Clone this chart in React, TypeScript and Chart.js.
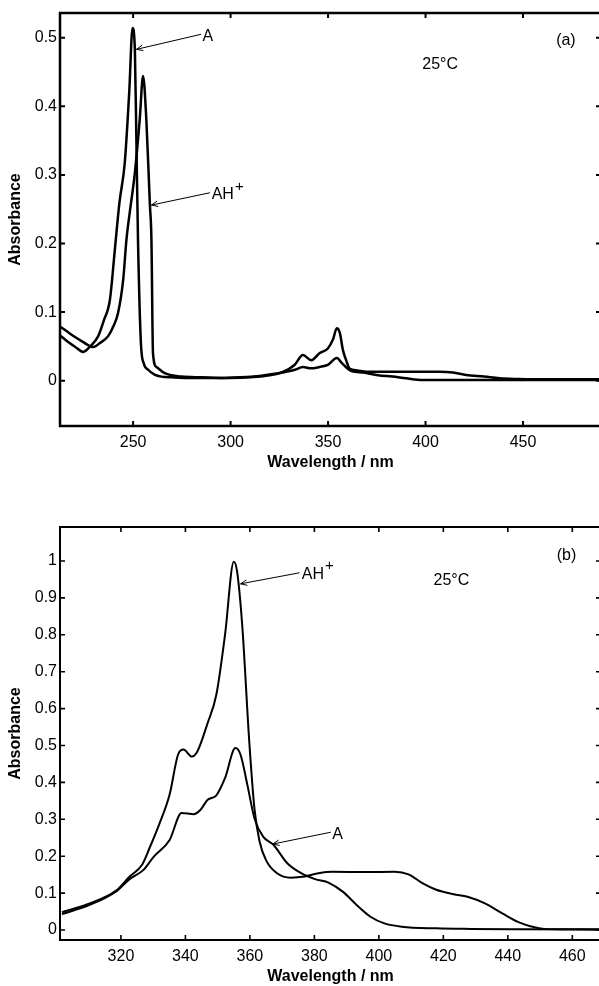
import React, { useEffect, useRef } from "react";
import { Chart, registerables } from "chart.js";

Chart.register(...registerables);

// ---------- Panel (a) data ----------
const aWlA = [212.5, 216, 220, 224.4, 228, 232.1, 235, 238.1, 240.6, 243, 245.7, 248, 249.7, 250.9, 251.7, 252.5, 254, 255.5, 257.7, 261, 264.5, 270, 280, 290, 300, 310, 320, 326.8, 333, 337.1, 341.4, 345.6, 349.9, 354.5, 357, 359.1, 362, 368, 375.6, 383, 390, 398.5, 420, 450, 490];
const aAbsA = [0.066, 0.058, 0.05, 0.042, 0.05, 0.065, 0.088, 0.118, 0.19, 0.26, 0.317, 0.42, 0.514, 0.483, 0.347, 0.206, 0.055, 0.025, 0.016, 0.009, 0.006, 0.005, 0.004, 0.004, 0.004, 0.005, 0.008, 0.012, 0.016, 0.02, 0.018, 0.02, 0.023, 0.033, 0.026, 0.02, 0.014, 0.012, 0.008, 0.006, 0.0035, 0.001, 0.001, 0.001, 0.001];
const aWlAH = [212.5, 216, 220, 224, 229.6, 233, 237.2, 240, 242.3, 244.9, 246.6, 248.5, 250.9, 253.4, 255.1, 256.8, 258.6, 259.4, 260.2, 262, 266.2, 274.8, 285, 295, 305, 315, 320, 326.8, 332.8, 337.1, 341.4, 345.6, 349.9, 352.5, 354.5, 356, 357.6, 359.5, 361, 365, 369.6, 386.6, 407.1, 414, 420.8, 430, 437.9, 448, 458.4, 490];
const aAbsAH = [0.079, 0.072, 0.064, 0.057, 0.049, 0.055, 0.065, 0.08, 0.099, 0.147, 0.206, 0.25, 0.303, 0.381, 0.444, 0.38, 0.257, 0.206, 0.04, 0.02, 0.011, 0.006, 0.005, 0.004, 0.005, 0.007, 0.009, 0.013, 0.023, 0.0375, 0.03, 0.04, 0.047, 0.06, 0.0765, 0.07, 0.045, 0.028, 0.018, 0.015, 0.013, 0.013, 0.013, 0.012, 0.0083, 0.006, 0.0035, 0.0025, 0.002, 0.002];
const aXTicks = [250, 300, 350, 400, 450];
const aYTicks = [0, 0.1, 0.2, 0.3, 0.4, 0.5];

// ---------- Panel (b) data ----------
const bWlAH = [301.7, 310.3, 318.4, 322.7, 326.5, 329, 331.8, 335.1, 337.7, 339.4, 342, 343.7, 346.9, 349.6, 352.3, 355, 356, 357.6, 359.8, 361.4, 363, 365.2, 368.4, 372.7, 377, 381.3, 385.6, 396.3, 404.9, 409.2, 413.5, 417.8, 423.2, 427.5, 432.9, 438.3, 443.7, 450.1, 456.6, 469];
const bAbsAH = [0.048, 0.072, 0.106, 0.145, 0.176, 0.225, 0.285, 0.367, 0.475, 0.489, 0.47, 0.484, 0.561, 0.638, 0.801, 0.998, 0.973, 0.828, 0.511, 0.33, 0.24, 0.186, 0.154, 0.142, 0.145, 0.154, 0.158, 0.157, 0.158, 0.151, 0.127, 0.109, 0.097, 0.09, 0.072, 0.045, 0.02, 0.0045, 0.002, 0.002];
const bWlA = [301.7, 310.3, 318.4, 322.7, 327, 330.2, 335.1, 338.8, 342.6, 344.7, 346.9, 349.6, 352.3, 355.5, 357.1, 359.2, 361.4, 364.1, 367.3, 371.6, 375.9, 380.2, 384.5, 388.8, 393.1, 397.4, 401.7, 407.1, 417.8, 428.6, 444.7, 469];
const bAbsA = [0.043, 0.068, 0.104, 0.138, 0.163, 0.199, 0.244, 0.317, 0.314, 0.326, 0.353, 0.365, 0.412, 0.493, 0.475, 0.394, 0.303, 0.253, 0.231, 0.181, 0.154, 0.138, 0.128, 0.104, 0.068, 0.036, 0.018, 0.009, 0.0045, 0.003, 0.002, 0.001];
const bXTicks = [320, 340, 360, 380, 400, 420, 440, 460];
const bYTicks = [0, 0.1, 0.2, 0.3, 0.4, 0.5, 0.6, 0.7, 0.8, 0.9, 1];

// annotation definitions (data coordinates)
const aArrows = [
  { from: [284.9, 0.505], to: [251.7, 0.483], label: "A", at: [288.3, 0.502], align: "center", sup: "" },
  { from: [289.4, 0.274], to: [259.4, 0.256], label: "AH", at: [290.3, 0.271], align: "left", sup: "+" },
];
const aTexts = [
  { text: "25°C", at: [407.5, 0.461] },
  { text: "(a)", at: [472, 0.496] },
];
const bArrows = [
  { from: [375.4, 0.968], to: [357.1, 0.938], label: "AH", at: [376.1, 0.964], align: "left", sup: "+" },
  { from: [385.1, 0.265], to: [367.1, 0.233], label: "A", at: [387.2, 0.258], align: "center", sup: "" },
];
const bTexts = [
  { text: "25°C", at: [422.5, 0.948] },
  { text: "(b)", at: [458.2, 1.014] },
];

const FONT = "'Liberation Sans', Arial, Helvetica, sans-serif";

const framePlugin = {
  id: "frame",
  afterDraw(chart: any, _args: any, opts: any) {
    const { ctx, chartArea } = chart;
    const { left, right, top, bottom } = chartArea;
    const xs = chart.scales.x;
    const ys = chart.scales.y;
    ctx.save();
    ctx.strokeStyle = "#000";
    ctx.fillStyle = "#000";
    ctx.lineWidth = opts.frameWidth;
    ctx.strokeRect(left, top, right - left, bottom - top);
    const tl = 5;
    ctx.lineWidth = opts.frameWidth * 0.8;
    ctx.beginPath();
    for (const t of xs.ticks) {
      const px = xs.getPixelForValue(t.value);
      ctx.moveTo(px, bottom);
      ctx.lineTo(px, bottom - tl);
      ctx.moveTo(px, top);
      ctx.lineTo(px, top + tl);
    }
    for (const t of ys.ticks) {
      const py = ys.getPixelForValue(t.value);
      ctx.moveTo(left, py);
      ctx.lineTo(left + tl, py);
      ctx.moveTo(right, py);
      ctx.lineTo(right - tl, py);
    }
    ctx.stroke();

    // arrows
    ctx.lineWidth = 1;
    for (const a of opts.arrows) {
      const x1 = xs.getPixelForValue(a.from[0]);
      const y1 = ys.getPixelForValue(a.from[1]);
      const x2 = xs.getPixelForValue(a.to[0]);
      const y2 = ys.getPixelForValue(a.to[1]);
      ctx.beginPath();
      ctx.moveTo(x1, y1);
      ctx.lineTo(x2, y2);
      const ang = Math.atan2(y1 - y2, x1 - x2);
      const hl = 7;
      const spread = 0.4;
      ctx.moveTo(x2 + hl * Math.cos(ang + spread), y2 + hl * Math.sin(ang + spread));
      ctx.lineTo(x2, y2);
      ctx.lineTo(x2 + hl * Math.cos(ang - spread), y2 + hl * Math.sin(ang - spread));
      ctx.stroke();
      const lx = xs.getPixelForValue(a.at[0]);
      const ly = ys.getPixelForValue(a.at[1]);
      ctx.font = `16px ${FONT}`;
      ctx.textBaseline = "middle";
      ctx.textAlign = a.align;
      ctx.fillText(a.label, lx, ly);
      if (a.sup) {
        const w = ctx.measureText(a.label).width;
        ctx.textAlign = "left";
        ctx.font = `15px ${FONT}`;
        ctx.fillText(a.sup, lx + w + 1, ly - 8);
      }
    }
    for (const t of opts.texts) {
      ctx.font = `16px ${FONT}`;
      ctx.textBaseline = "middle";
      ctx.textAlign = "center";
      ctx.fillText(t.text, xs.getPixelForValue(t.at[0]), ys.getPixelForValue(t.at[1]));
    }
    ctx.restore();
  },
};

function toPoints(xs: number[], ys: number[]) {
  return xs.map((x, i) => ({ x, y: ys[i] }));
}

type PanelProps = {
  height: number;
  padTop: number;
  padBottom: number;
  xMin: number;
  xMax: number;
  yMin: number;
  yMax: number;
  xTicks: number[];
  yTicks: number[];
  series: { x: number[]; y: number[] }[];
  lineWidth: number;
  frameWidth: number;
  arrows: any[];
  texts: any[];
};

function Panel(p: PanelProps) {
  const ref = useRef<HTMLCanvasElement | null>(null);
  useEffect(() => {
    if (!ref.current) return;
    const chart = new Chart(ref.current, {
      type: "line",
      data: {
        datasets: p.series.map((s) => ({
          data: toPoints(s.x, s.y),
          borderColor: "#000",
          borderWidth: p.lineWidth,
          pointRadius: 0,
          fill: false,
          cubicInterpolationMode: "monotone" as const,
        })),
      },
      options: {
        responsive: false,
        animation: false,
        devicePixelRatio: 1,
        layout: { padding: { top: p.padTop, bottom: p.padBottom, left: 0, right: 11 } },
        plugins: {
          legend: { display: false },
          tooltip: { enabled: false },
          frame: { frameWidth: p.frameWidth, arrows: p.arrows, texts: p.texts },
        } as any,
        scales: {
          x: {
            type: "linear",
            min: p.xMin,
            max: p.xMax,
            grid: { display: false, drawTicks: false },
            border: { display: false },
            afterBuildTicks: (scale: any) => {
              scale.ticks = p.xTicks.map((v) => ({ value: v }));
            },
            afterFit: (scale: any) => {
              scale.height = 46;
            },
            ticks: {
              color: "#000",
              font: { family: FONT, size: 16 },
              padding: 7,
              maxRotation: 0,
              autoSkip: false,
              callback: (v: any) => String(v),
            },
            title: {
              display: true,
              text: "Wavelength / nm",
              color: "#000",
              font: { family: FONT, size: 16, weight: "bold" },
              padding: { top: 0, bottom: 0 },
            },
          },
          y: {
            type: "linear",
            min: p.yMin,
            max: p.yMax,
            grid: { display: false, drawTicks: false },
            border: { display: false },
            afterBuildTicks: (scale: any) => {
              scale.ticks = p.yTicks.map((v) => ({ value: v }));
            },
            afterFit: (scale: any) => {
              scale.width = 60;
            },
            ticks: {
              color: "#000",
              font: { family: FONT, size: 16 },
              padding: 3,
              autoSkip: false,
              callback: (v: any) => String(v),
            },
            title: {
              display: true,
              text: "Absorbance",
              color: "#000",
              font: { family: FONT, size: 16, weight: "bold" },
              padding: { top: 6, bottom: 0 },
            },
          },
        },
      },
      plugins: [framePlugin as any],
    });
    return () => chart.destroy();
  }, []);
  return (
    <canvas
      ref={ref}
      width={612}
      height={p.height}
      style={{ display: "block", width: 612, height: p.height }}
    />
  );
}

export default function App() {
  return (
    <div
      style={{
        position: "absolute",
        left: 0,
        top: 0,
        width: 599,
        height: 986,
        overflow: "hidden",
        background: "#fff",
      }}
    >
      <Panel
        height={493}
        padTop={13}
        padBottom={21}
        xMin={212.5}
        xMax={490}
        yMin={-0.066}
        yMax={0.536}
        xTicks={aXTicks}
        yTicks={aYTicks}
        series={[
          { x: aWlA, y: aAbsA },
          { x: aWlAH, y: aAbsAH },
        ]}
        lineWidth={2.5}
        frameWidth={2.5}
        arrows={aArrows}
        texts={aTexts}
      />
      <Panel
        height={493}
        padTop={34}
        padBottom={0}
        xMin={301.1}
        xMax={468.9}
        yMin={-0.027}
        yMax={1.092}
        xTicks={bXTicks}
        yTicks={bYTicks}
        series={[
          { x: bWlA, y: bAbsA },
          { x: bWlAH, y: bAbsAH },
        ]}
        lineWidth={2}
        frameWidth={2}
        arrows={bArrows}
        texts={bTexts}
      />
    </div>
  );
}
